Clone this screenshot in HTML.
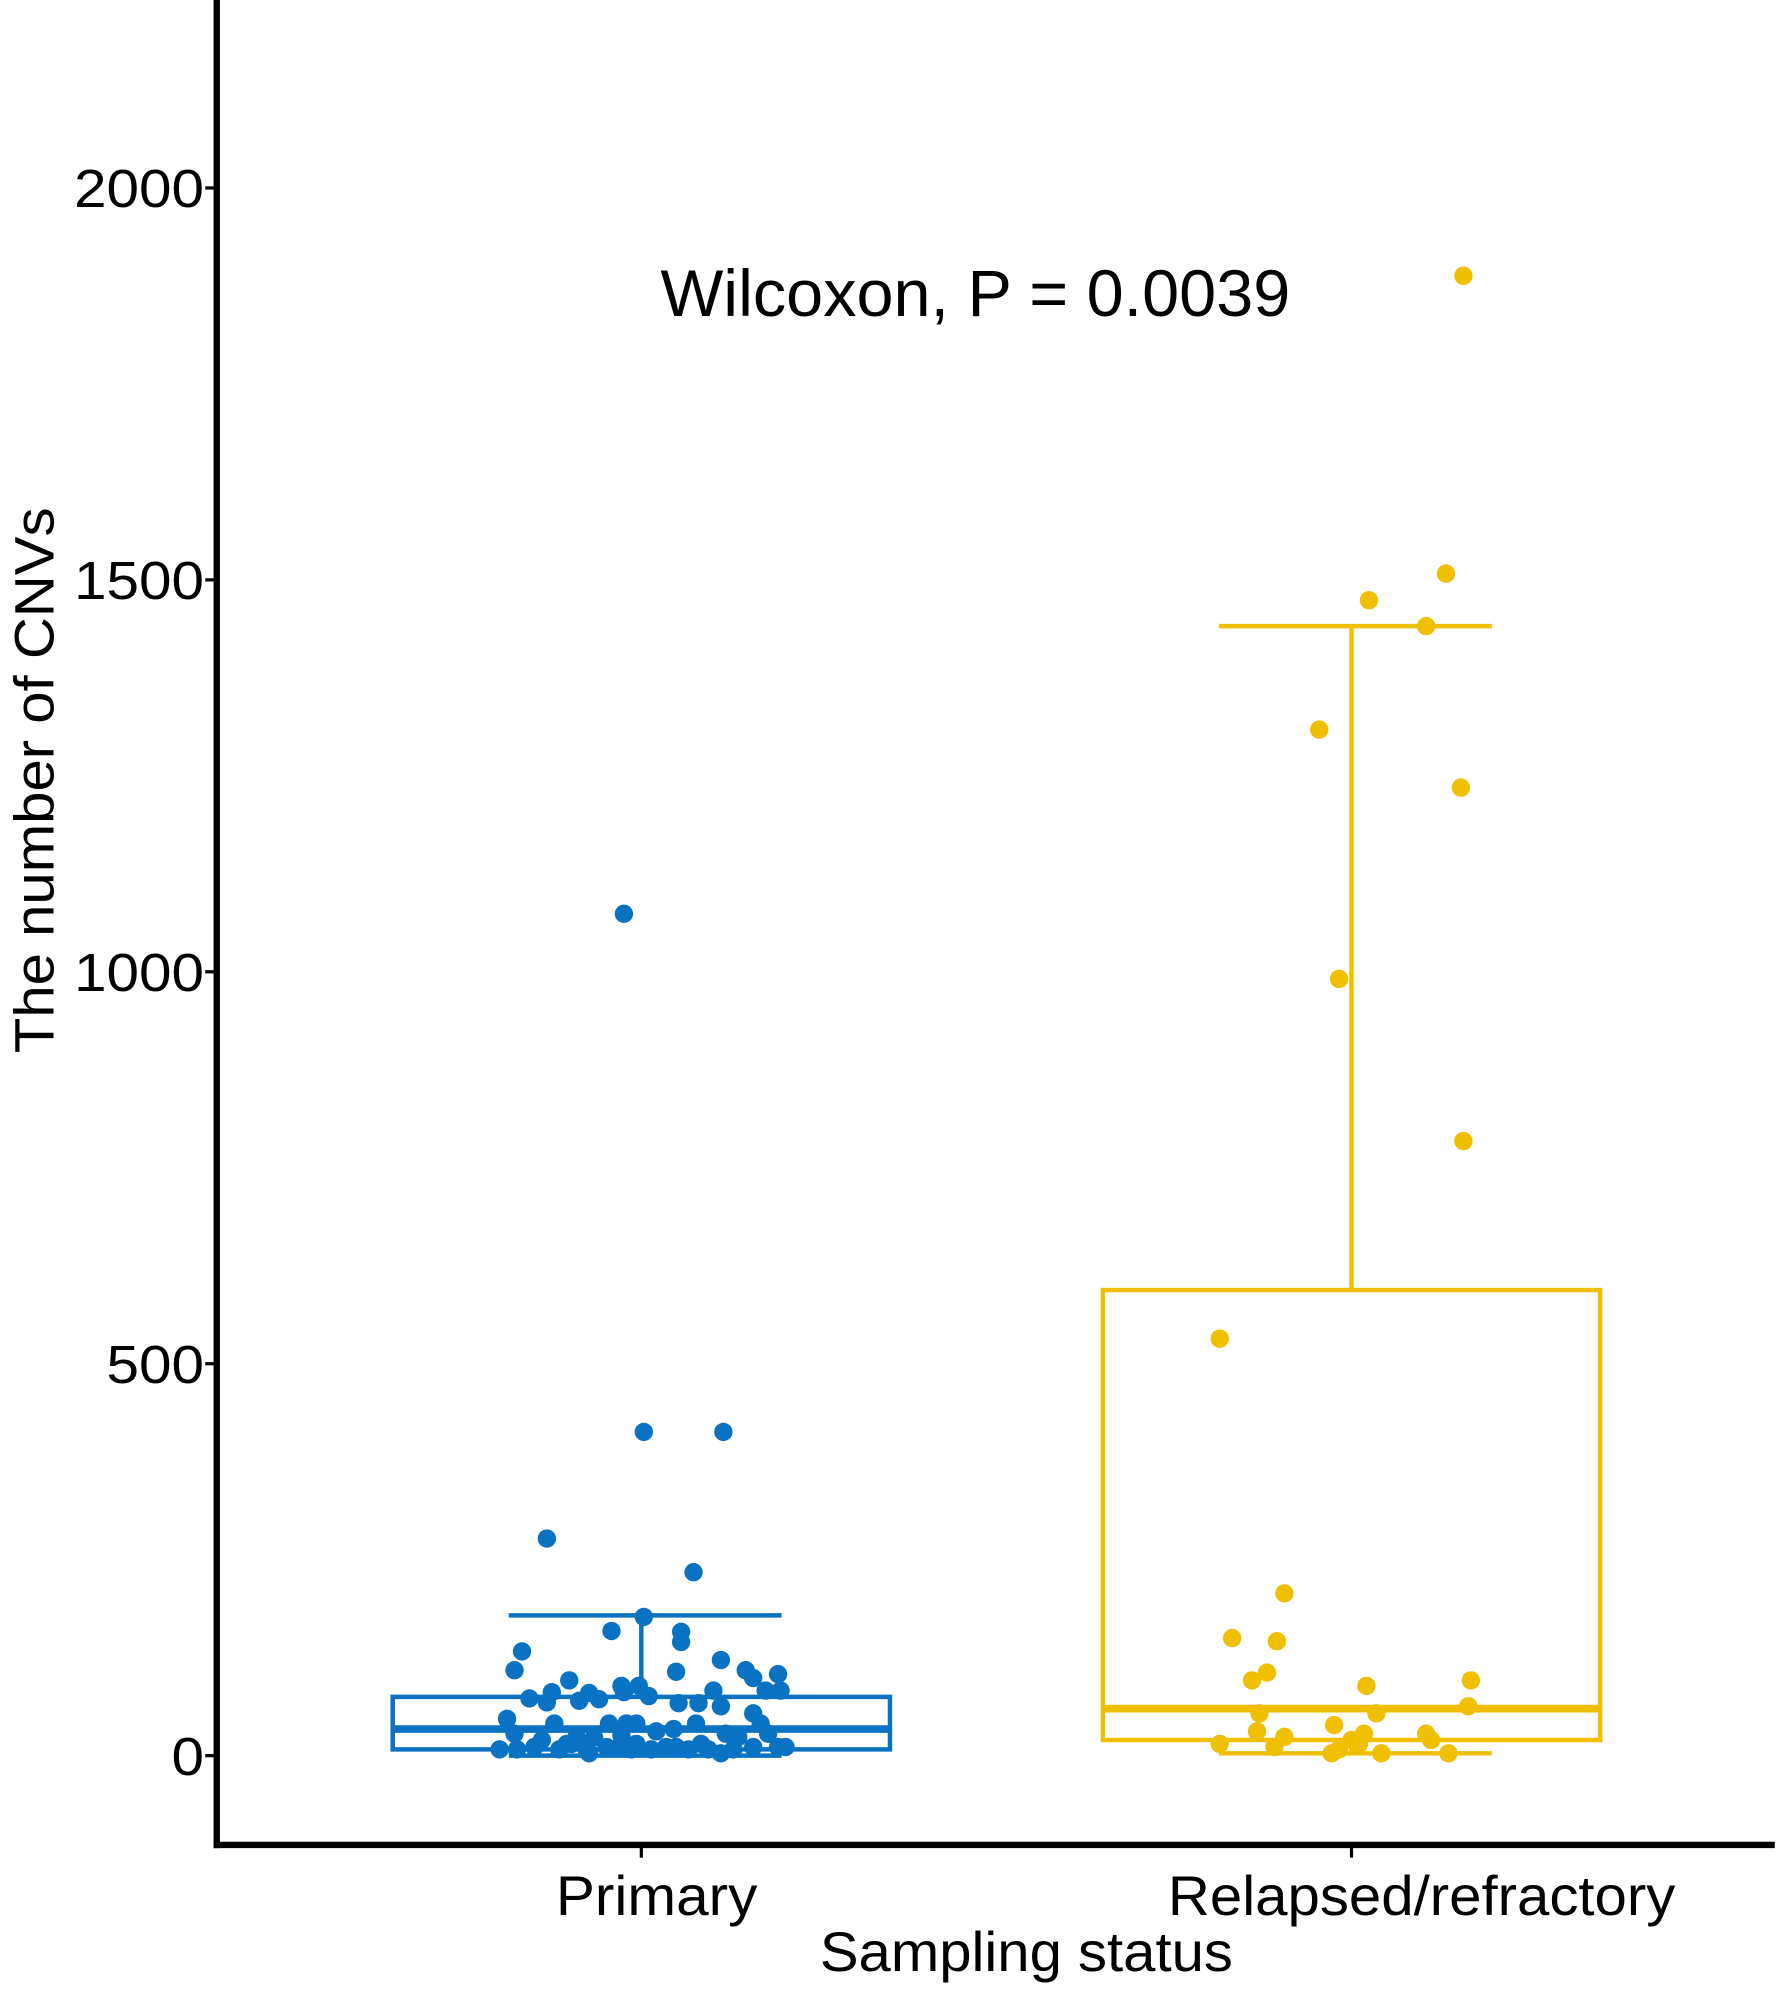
<!DOCTYPE html>
<html><head><meta charset="utf-8">
<style>
html,body{margin:0;padding:0;background:#fff;}
svg{display:block;font-family:"Liberation Sans",Arial,sans-serif;}
</style></head>
<body>
<svg id="chart" width="1785" height="1996" viewBox="0 0 1400 1565.5" xmlns="http://www.w3.org/2000/svg">
<g id="plot"></g>
</svg>
<script>
const categories = ["Primary", "Relapsed/refractory"];
const yTicks = [0, 500, 1000, 1500, 2000];
// box stats: [lower whisker, q1, median, q3, upper whisker]
const primaryStats = [0, 8, 34, 75, 179];
const relapsedStats = [3, 20, 60, 594, 1441];
const primaryValues = [1074,413,413,277,234,177,159,158,145,133,122,109,107,109,104,96,99,89,89,81,80,73,68,70,72,81,76,83,67,67,63,83,83,47,41,41,41,41,41,54,41,28,20,24,23,26,31,34,28,24,28,8,8,11,8,8,11,8,8,11,8,8,3,8,11,11,11,15,3,11,15,11,15,15];
const primaryJitter = [-7,1,33,-38,21,1,-12,16,16,-48,32,-51,14,42,55,-29,45,-8,-1,-36,-21,-45,-38,-25,-17,-7,3,29,15,23,32,50,56,-54,-35,-13,-6,-2,22,45,48,-51,-40,-26,-19,-8,6,13,34,39,51,-57,-50,-43,-33,-22,-14,-4,4,10,19,27,32,37,45,55,58,-28,-21,-9,-2,14,24,-30];
const relapsedValues = [1888,1508,1474,1441,1309,1235,991,784,532,207,150,146,106,96,89,96,63,54,54,39,31,24,28,28,20,15,20,11,8,3,3,3,15];
const relapsedJitter = [45,38,7,30,-13,44,-5,45,-53,-27,-48,-30,-34,-40,6,48,47,-37,10,-7,-38,-27,5,30,32,-53,0,-31,-5,-8,12,39,3];

const NS = "http://www.w3.org/2000/svg";
const g = document.getElementById("plot");
const X0 = 170, X1 = 1392, YB = 1447;
const catCenter = [503, 1060];
const boxHalf = 195, capHalf = 110;
function yScale(v){ return 1377 - v * 0.6148; }
function xScale(i, j){ return catCenter[i] + (j || 0) / 100 * boxHalf; }
function mk(tag, attrs){ const e = document.createElementNS(NS, tag); for (const k in attrs) e.setAttribute(k, attrs[k]); g.appendChild(e); return e; }

let a = mk("line", {x1:X0, y1:0, x2:X0, y2:YB+2.5, stroke:"#000","stroke-width":5});


a = mk("line", {x1:X0-2.5, y1:YB, x2:X1, y2:YB, stroke:"#000","stroke-width":5});



yTicks.forEach(t => {
  const y = yScale(t);
  const tk = mk("line", {x1:X0-9, y1:y, x2:X0, y2:y, stroke:"#000","stroke-width":2.5});
  
  
  const tx = mk("text", {x:X0-10, y:y+15, "text-anchor":"end", "font-size":42, fill:"#000", textLength: String(t).length*25.5, lengthAdjust:"spacingAndGlyphs"});
  tx.textContent = t;
  
  
});
categories.forEach((c, i) => {
  const x = xScale(i, 0);
  const tk = mk("line", {x1:x, y1:YB, x2:x, y2:YB+10, stroke:"#000","stroke-width":2.5});
  
  
  const tx = mk("text", {x:x + (i ? 55 : 12), y:1502, "text-anchor":"middle", "font-size":44, fill:"#000", textLength: i ? 398 : 158, lengthAdjust:"spacingAndGlyphs"});
  tx.textContent = c;
  
  
});

function drawBox(i, s, color, vals, jit, name){
  const x = xScale(i, 0);
  let e = mk("line", {x1:x, y1:yScale(s[0]), x2:x, y2:yScale(s[1]), stroke:color, "stroke-width":3.5});
  
  
  e = mk("line", {x1:x, y1:yScale(s[3]), x2:x, y2:yScale(s[4]), stroke:color, "stroke-width":3.5});
  
  
  [s[0], s[4]].forEach(v => {
    const c = mk("line", {x1:x-capHalf+6, y1:yScale(v), x2:x+capHalf, y2:yScale(v), stroke:color, "stroke-width":3.5});
    
    
  });
  e = mk("rect", {x:x-boxHalf, y:yScale(s[3]), width:boxHalf*2, height:yScale(s[1])-yScale(s[3]), fill:"none", stroke:color, "stroke-width":3.5});
  
  
  e = mk("line", {x1:x-boxHalf, y1:yScale(s[2]), x2:x+boxHalf, y2:yScale(s[2]), stroke:color, "stroke-width":6});
  
  
  vals.forEach((v, k) => {
    const p = mk("circle", {cx:xScale(i, jit[k]), cy:yScale(v), r:7.2, fill:color});
    
    
  });
}
drawBox(0, primaryStats, "#0a72c2", primaryValues, primaryJitter, "primary");
drawBox(1, relapsedStats, "#efbf00", relapsedValues, relapsedJitter, "relapsed");

let t = mk("text", {x:765, y:248, "text-anchor":"middle", "font-size":52, fill:"#000", textLength:494, lengthAdjust:"spacingAndGlyphs"});
t.textContent = "Wilcoxon, P = 0.0039";


t = mk("text", {x:805, y:1546, "text-anchor":"middle", "font-size":44, fill:"#000", textLength:324, lengthAdjust:"spacingAndGlyphs"});
t.textContent = "Sampling status";


t = mk("text", {x:0, y:0, "text-anchor":"middle", "font-size":44, fill:"#000", transform:"translate(42,612) rotate(-90)", textLength:428, lengthAdjust:"spacingAndGlyphs"});
t.textContent = "The number of CNVs";


</script>
</body></html>
